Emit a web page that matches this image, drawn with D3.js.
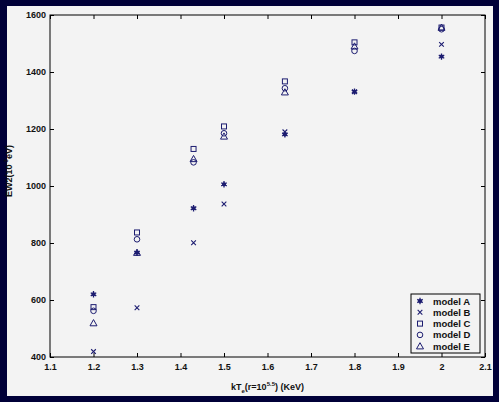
<!DOCTYPE html>
<html>
<head>
<meta charset="utf-8">
<script src="https://cdn.jsdelivr.net/npm/d3@7"></script>
<style>
  body { margin: 0; background: #000038; }
  svg { display: block; font-family: "Liberation Sans", Arial, sans-serif; }
</style>
</head>
<body>
<div id="chart"></div>
<script>
// temperatures and equivalent widths per model
const temps = [1.2, 1.3, 1.43, 1.5, 1.64, 1.8, 2.0]
const modelA = [620, 766, 922, 1006, 1181, 1331, 1454]
const modelB = [419, 573, 801, 937, 1190, 1331, 1497]
const modelC = [575, 837, 1130, 1209, 1367, 1504, 1556]
const modelD = [562, 813, 1083, 1185, 1343, 1474, 1550]
const modelE = [519, 766, 1095, 1174, 1329, 1490, 1556]
const modelNames = ["model A", "model B", "model C", "model D", "model E"]
const xTicks = [1.1, 1.2, 1.3, 1.4, 1.5, 1.6, 1.7, 1.8, 1.9, 2, 2.1]
const yTicks = [400, 600, 800, 1000, 1200, 1400, 1600]

const W = 499, H = 402
const margin = {top: 15, right: 14, bottom: 45, left: 50}
const width = W - margin.left - margin.right
const height = H - margin.top - margin.bottom
const ink = "#1c1c70"

const root = d3.select("#chart").append("svg")
  .attr("width", W).attr("height", H)

root.append("rect").attr("x", 0).attr("y", 0).attr("width", W).attr("height", H).attr("fill", "#000038")
root.append("rect").attr("x", 7).attr("y", 6).attr("width", 486).attr("height", 390).attr("fill", "#f3f3f3")

const svg = root.append("g").attr("transform", "translate(" + margin.left + "," + margin.top + ")")

const x = d3.scaleLinear().domain([1.1, 2.1]).range([0, width])
const y = d3.scaleLinear().domain([400, 1600]).range([height, 0])

function styleAxis(g) {
  g.select(".domain").remove()
  g.selectAll("line").attr("stroke", "#000").attr("stroke-width", 1)
  g.selectAll("text").attr("font-size", "9px").attr("font-weight", "bold").attr("fill", "#111")
}

svg.append("g").attr("transform", "translate(0," + height + ")")
  .call(d3.axisBottom(x).tickValues(xTicks).tickSize(-4).tickPadding(7).tickFormat(d3.format("")))
  .call(styleAxis)
svg.append("g")
  .call(d3.axisTop(x).tickValues(xTicks).tickSize(-4).tickFormat(""))
  .call(styleAxis)
svg.append("g")
  .call(d3.axisLeft(y).tickValues(yTicks).tickSize(-4).tickPadding(4).tickFormat(d3.format("d")))
  .call(styleAxis)
svg.append("g").attr("transform", "translate(" + width + ",0)")
  .call(d3.axisRight(y).tickValues(yTicks).tickSize(-4).tickFormat(""))
  .call(styleAxis)

svg.append("rect").attr("width", width).attr("height", height)
  .attr("fill", "none").attr("stroke", "#000").attr("stroke-width", 1)

// axis labels
const xl = svg.append("text")
  .attr("x", width / 2).attr("y", height + 33)
  .attr("text-anchor", "middle").attr("font-size", "9px").attr("font-weight", "bold").attr("fill", "#111")
xl.append("tspan").text("kT")
xl.append("tspan").attr("font-size", "6px").attr("dy", 3).text("e")
xl.append("tspan").attr("dy", -3).text("(r=10")
xl.append("tspan").attr("font-size", "6px").attr("dy", -4).text("5.5")
xl.append("tspan").attr("dy", 4).text(") (KeV)")

const yl = svg.append("text")
  .attr("transform", "rotate(-90)")
  .attr("x", -height / 2 + 15).attr("y", -38)
  .attr("text-anchor", "middle").attr("font-size", "9px").attr("font-weight", "bold").attr("fill", "#111")
yl.append("tspan").text("EW2(10")
yl.append("tspan").attr("font-size", "6px").attr("dy", -4).text("-3")
yl.append("tspan").attr("dy", 4).text("eV)")

// markers
function drawMarker(g, type, cx, cy) {
  if (type == 0) {
    g.append("path").attr("d", d3.symbol(d3.symbolAsterisk, 28)())
      .attr("transform", "translate(" + cx + "," + cy + ")")
      .attr("stroke", ink).attr("stroke-width", 1.3).attr("fill", "none")
    g.append("circle").attr("cx", cx).attr("cy", cy).attr("r", 2).attr("fill", ink)
  } else if (type == 1) {
    g.append("path").attr("d", d3.symbol(d3.symbolTimes, 16)())
      .attr("transform", "translate(" + cx + "," + cy + ")")
      .attr("stroke", ink).attr("stroke-width", 1.1).attr("fill", "none")
  } else if (type == 2) {
    g.append("rect").attr("x", cx - 2.5).attr("y", cy - 2.5).attr("width", 5).attr("height", 5)
      .attr("stroke", ink).attr("stroke-width", 1).attr("fill", "none")
  } else if (type == 3) {
    g.append("circle").attr("cx", cx).attr("cy", cy).attr("r", 2.8)
      .attr("stroke", ink).attr("stroke-width", 1).attr("fill", "none")
  } else {
    g.append("path").attr("d", "M" + cx + "," + (cy - 3.5) + "L" + (cx + 3.5) + "," + (cy + 2.7) + "L" + (cx - 3.5) + "," + (cy + 2.7) + "Z")
      .attr("stroke", ink).attr("stroke-width", 1).attr("fill", "none")
  }
}

const models = [modelA, modelB, modelC, modelD, modelE]
const pts = svg.append("g")
models.forEach(function (vals, m) {
  d3.zip(temps, vals).forEach(function (d) {
    drawMarker(pts, m, x(d[0]), y(d[1]))
  })
})

// legend
const lg = svg.append("g").attr("transform", "translate(" + (x(1.9) + 13) + "," + (y(600) - 6) + ")")
lg.append("rect").attr("width", 69).attr("height", 59)
  .attr("fill", "#f3f3f3").attr("stroke", "#000").attr("stroke-width", 1)
modelNames.forEach(function (name, i) {
  const yy = 7 + i * 11.3
  drawMarker(lg, i, 9, yy)
  lg.append("text").attr("x", 22).attr("y", yy + 3.5)
    .attr("font-size", "9.5px").attr("font-weight", "bold").attr("fill", "#111").text(name)
})
</script>
</body>
</html>
